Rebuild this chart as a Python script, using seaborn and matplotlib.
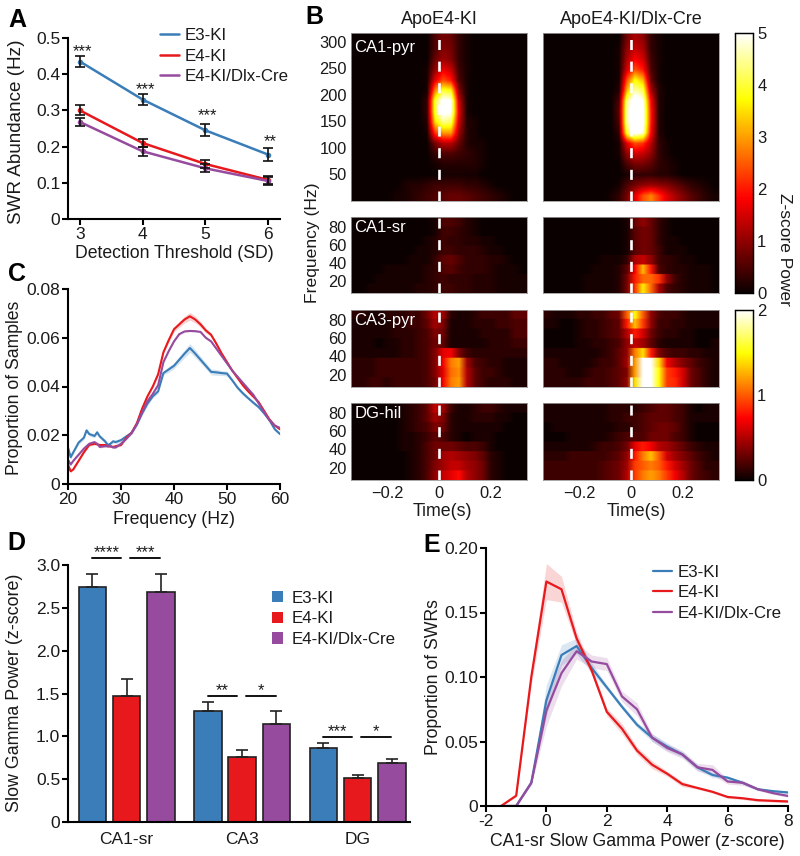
import numpy as np
import pandas as pd
import matplotlib
matplotlib.use('Agg')
import matplotlib.pyplot as plt
from matplotlib.patches import Patch
import seaborn as sns

sns.set_theme(style='ticks')
plt.rcParams['font.family'] = ['Liberation Sans', 'DejaVu Sans']

groups = ['E3-KI', 'E4-KI', 'E4-KI/Dlx-Cre']
colors = ['#3A7DB8', '#E8191C', '#964B9E']

# A
thresholds = [3, 4, 5, 6]
abund_e3 = [0.435, 0.330, 0.245, 0.178]
abund_e4 = [0.300, 0.210, 0.152, 0.108]
abund_dlx = [0.268, 0.187, 0.140, 0.105]
abund_err_e3 = [0.014, 0.015, 0.017, 0.018]
abund_err_e4 = [0.014, 0.012, 0.012, 0.010]
abund_err_dlx = [0.012, 0.012, 0.011, 0.010]

# C
freq = [20, 20.5, 21, 22, 23, 23.5, 24, 25, 25.5, 26, 27, 27.5, 28, 28.5, 29, 30, 31, 32, 33, 34, 35, 36, 37, 38, 39,
        40, 41, 42, 43, 44, 45, 46, 47, 48, 49, 50, 51, 52, 53, 54, 55, 56, 57, 58, 59, 60]
prop_e3 = [.015, .011, .013, .017, .019, .022, .0205, .0197, .0212, .0195, .0175, .016, .0165, .0175, .0172, .018,
           .0195, .021, .0245, .029, .033, .036, .038, .0455, .047, .0485, .051, .0535, .0558, .0535, .051, .0485,
           .046, .0458, .0455, .0453, .0425, .0395, .0372, .0352, .0333, .0315, .029, .0262, .0225, .0205]
prop_e4 = [.008, .0052, .006, .0095, .013, .0145, .016, .0165, .0163, .016, .016, .0155, .0155, .0152, .0155, .016,
           .019, .021, .025, .031, .036, .040, .045, .054, .059, .0635, .0655, .0675, .0688, .0675, .0655, .063,
           .0612, .0575, .0535, .050, .0465, .0435, .0405, .038, .0358, .0335, .030, .0265, .024, .0225]
prop_dlx = [.010, .008, .0095, .012, .0145, .0155, .0165, .0172, .0165, .0152, .0155, .0155, .0155, .015, .015, .0165,
            .0185, .021, .0245, .0295, .034, .037, .0405, .050, .0545, .0585, .0615, .0626, .0628, .0627, .0624, .060,
            .0585, .0555, .0525, .0495, .0465, .044, .0415, .039, .0365, .033, .0295, .0262, .024, .023]
prop_sem_e3 = [.0008] * 24 + [.0012, .0012, .0014, .0016, .0018, .0016, .0014, .0012, .0012, .0012, .0010, .0010,
                              .0008, .0008, .0008, .0006, .0006, .0006, .0006, .0006, .0006, .0006]
prop_sem_e4 = [.0005] * 24 + [.0010, .0010, .0012, .0014, .0016, .0014, .0012, .0010, .0008, .0008, .0006, .0006,
                              .0006, .0006, .0006, .0005, .0005, .0005, .0005, .0005, .0005, .0005]
prop_sem_dlx = [.0004] * 46

# D
regions = ['CA1-sr', 'CA3', 'DG']
gamma_e3 = [2.74, 1.30, 0.86]
gamma_e4 = [1.47, 0.76, 0.51]
gamma_dlx = [2.69, 1.14, 0.69]
gamma_err_e3 = [0.15, 0.10, 0.06]
gamma_err_e4 = [0.20, 0.08, 0.04]
gamma_err_dlx = [0.21, 0.15, 0.04]
sig_stars = [['****', '***'], ['**', '*'], ['***', '*']]
sig_heights = [3.08, 1.47, 0.99]

# E
zscore = [-1.5, -1, -.5, 0, .5, 1, 1.5, 2, 2.5, 3, 3.5, 4, 4.5, 5, 5.5, 6, 6.5, 7, 7.5, 8]
swr_e3 = [0, 0, .018, .082, .117, .124, .107, .092, .077, .063, .053, .046, .040, .030, .024, .022, .018, .013, .0115, .0105]
swr_e4 = [0, .008, .100, .174, .168, .130, .105, .073, .060, .043, .032, .025, .017, .014, .011, .007, .006, .0045, .004, .0035]
swr_dlx = [0, 0, .018, .074, .103, .120, .112, .110, .085, .075, .053, .045, .040, .030, .028, .019, .018, .013, .010, .0078]
swr_sem_e3 = [0, 0, .001, .012, .008, .006, .004, .002, .002, .002, .003, .003, .002, .002, .002, .001, .001, .001, .001, .001]
swr_sem_e4 = [0, .001, .006, .014, .010, .005, .003, .003, .004, .003, .003, .002, .002, .001, .001, .001, .001, .001, .001, .001]
swr_sem_dlx = [0, 0, .002, .012, .010, .006, .005, .005, .004, .005, .003, .003, .003, .003, .004, .002, .002, .001, .001, .001]

# B, top row = highest frequency. CA1 grids are in 1/10 z, CA3 and DG in 1/20 z
pyr_e4 = [
    [0, 0, 0, 0, 0, 0, 0, 0, 0, 0, 5, 8, 7, 3, 1, 0, 0, 0, 0, 0, 0, 0],
    [0, 0, 0, 0, 0, 0, 0, 0, 0, 0, 5, 9, 8, 3, 1, 0, 0, 0, 0, 0, 0, 0],
    [0, 0, 0, 0, 0, 0, 0, 0, 0, 0, 7, 11, 9, 3, 1, 0, 0, 0, 0, 0, 0, 0],
    [0, 0, 0, 0, 0, 0, 0, 0, 0, 1, 10, 17, 14, 4, 1, 0, 0, 0, 0, 0, 0, 0],
    [0, 0, 0, 0, 0, 0, 0, 0, 0, 1, 16, 24, 20, 5, 1, 0, 0, 0, 0, 0, 0, 0],
    [0, 0, 0, 0, 0, 0, 0, 0, 0, 1, 28, 40, 38, 9, 1, 0, 0, 0, 0, 0, 0, 0],
    [0, 0, 0, 0, 0, 0, 0, 0, 0, 3, 40, 52, 50, 14, 1, 0, 0, 0, 0, 0, 0, 0],
    [0, 0, 0, 0, 0, 0, 0, 0, 0, 3, 40, 52, 50, 16, 1, 0, 0, 0, 0, 0, 0, 0],
    [0, 0, 0, 0, 0, 0, 0, 0, 0, 2, 34, 44, 42, 14, 2, 1, 0, 0, 0, 0, 0, 0],
    [0, 0, 0, 0, 0, 0, 0, 0, 0, 1, 22, 30, 30, 11, 2, 1, 0, 0, 0, 0, 0, 0],
    [0, 0, 0, 0, 0, 0, 0, 0, 0, 0, 8, 13, 13, 7, 2, 1, 1, 0, 0, 0, 0, 0],
    [0, 0, 0, 0, 0, 0, 0, 0, 0, 0, 3, 5, 5, 4, 3, 2, 1, 0, 0, 0, 0, 0],
    [0, 0, 0, 0, 0, 0, 0, 0, 0, 0, 1, 2, 2, 2, 2, 2, 1, 0, 0, 0, 0, 0],
    [0, 0, 0, 0, 0, 0, 0, 0, 0, 0, 0, 1, 1, 1, 1, 1, 0, 0, 0, 0, 0, 0],
    [0, 0, 0, 0, 0, 0, 1, 2, 2, 3, 4, 4, 4, 4, 3, 3, 2, 1, 0, 0, 0, 0],
    [0, 0, 0, 0, 0, 1, 1, 2, 3, 4, 5, 6, 7, 7, 6, 5, 4, 3, 2, 1, 0, 0],
]
pyr_dlx = [
    [0, 0, 0, 0, 0, 0, 0, 0, 0, 0, 8, 12, 10, 3, 1, 0, 0, 0, 0, 0, 0, 0],
    [0, 0, 0, 0, 0, 0, 0, 0, 0, 1, 10, 14, 12, 3, 1, 0, 0, 0, 0, 0, 0, 0],
    [0, 0, 0, 0, 0, 0, 0, 0, 0, 1, 12, 18, 15, 4, 1, 0, 0, 0, 0, 0, 0, 0],
    [0, 0, 0, 0, 0, 0, 0, 0, 0, 1, 15, 24, 20, 5, 1, 0, 0, 0, 0, 0, 0, 0],
    [0, 0, 0, 0, 0, 0, 0, 0, 0, 1, 24, 38, 32, 7, 1, 0, 0, 0, 0, 0, 0, 0],
    [0, 0, 0, 0, 0, 0, 0, 0, 0, 2, 32, 46, 42, 12, 2, 0, 0, 0, 0, 0, 0, 0],
    [0, 0, 0, 0, 0, 0, 0, 0, 0, 5, 44, 55, 50, 18, 2, 0, 0, 0, 0, 0, 0, 0],
    [0, 0, 0, 0, 0, 0, 0, 0, 0, 6, 46, 55, 52, 20, 2, 0, 0, 0, 0, 0, 0, 0],
    [0, 0, 0, 0, 0, 0, 0, 0, 0, 5, 46, 55, 52, 20, 2, 0, 0, 0, 0, 0, 0, 0],
    [0, 0, 0, 0, 0, 0, 0, 0, 0, 3, 40, 52, 48, 18, 2, 0, 0, 0, 0, 0, 0, 0],
    [0, 0, 0, 0, 0, 0, 0, 0, 0, 1, 16, 24, 22, 13, 3, 1, 0, 0, 0, 0, 0, 0],
    [0, 0, 0, 0, 0, 0, 0, 0, 0, 1, 10, 15, 14, 10, 3, 1, 0, 0, 0, 0, 0, 0],
    [0, 0, 0, 0, 0, 0, 0, 0, 0, 0, 5, 8, 8, 6, 3, 2, 1, 0, 0, 0, 0, 0],
    [0, 0, 0, 0, 0, 0, 0, 0, 0, 0, 1, 3, 3, 3, 2, 2, 1, 0, 0, 0, 0, 0],
    [0, 0, 0, 0, 0, 0, 0, 0, 0, 1, 5, 8, 10, 11, 10, 9, 7, 5, 3, 2, 1, 0],
    [0, 0, 0, 0, 0, 0, 0, 0, 1, 3, 8, 16, 24, 28, 22, 16, 12, 9, 6, 4, 2, 1],
]
sr_e4 = [
    [0, 0, 0, 0, 0, 0, 0, 0, 0, 0, 1, 5, 5, 4, 2, 1, 0, 0, 0, 0, 0, 0],
    [0, 0, 0, 0, 0, 0, 0, 0, 0, 0, 1, 4, 4, 3, 2, 1, 0, 0, 0, 0, 0, 0],
    [0, 0, 0, 0, 0, 0, 0, 0, 0, 1, 2, 4, 3, 3, 2, 2, 1, 1, 0, 0, 0, 0],
    [0, 0, 0, 0, 0, 0, 0, 0, 1, 1, 2, 4, 4, 3, 3, 3, 2, 1, 1, 0, 0, 0],
    [0, 0, 0, 0, 0, 0, 0, 1, 1, 1, 3, 6, 7, 5, 3, 3, 3, 2, 2, 1, 0, 0],
    [0, 0, 0, 0, 1, 1, 1, 1, 1, 2, 3, 5, 6, 4, 3, 3, 3, 2, 1, 1, 1, 0],
    [0, 0, 0, 1, 1, 1, 1, 1, 1, 2, 3, 4, 3, 3, 3, 2, 2, 2, 1, 1, 1, 1],
    [0, 0, 1, 1, 1, 1, 1, 1, 2, 2, 3, 4, 4, 3, 3, 2, 2, 2, 1, 1, 1, 1],
]
sr_dlx = [
    [0, 0, 0, 0, 0, 0, 0, 0, 0, 0, 1, 7, 10, 7, 3, 1, 0, 0, 0, 0, 0, 0],
    [0, 0, 0, 0, 0, 0, 0, 0, 0, 0, 1, 6, 8, 7, 3, 1, 0, 0, 0, 0, 0, 0],
    [0, 0, 0, 0, 0, 0, 0, 0, 0, 0, 1, 6, 8, 7, 3, 1, 1, 0, 0, 0, 0, 0],
    [0, 0, 0, 0, 0, 0, 0, 0, 0, 0, 1, 6, 8, 7, 4, 1, 1, 1, 0, 0, 0, 0],
    [0, 0, 0, 0, 0, 0, 0, 1, 1, 1, 3, 12, 14, 10, 4, 3, 2, 1, 1, 0, 0, 0],
    [0, 0, 0, 0, 0, 0, 1, 1, 1, 2, 6, 18, 32, 20, 5, 3, 2, 2, 1, 1, 1, 0],
    [0, 0, 0, 0, 0, 1, 1, 1, 1, 2, 8, 20, 26, 26, 22, 10, 4, 2, 1, 1, 1, 0],
    [0, 0, 0, 0, 0, 1, 1, 1, 1, 2, 8, 22, 36, 26, 12, 5, 3, 2, 1, 1, 1, 0],
]
ca3_e4 = [
    [2, 2, 1, 1, 2, 2, 2, 3, 3, 6, 10, 9, 2, 1, 1, 2, 3, 3, 3, 3, 5, 5],
    [1, 1, 1, 1, 1, 2, 2, 3, 3, 5, 9, 7, 1, 1, 1, 2, 2, 2, 3, 3, 4, 4],
    [1, 1, 1, 1, 1, 2, 2, 2, 3, 4, 7, 6, 1, 1, 1, 1, 2, 2, 2, 2, 4, 4],
    [1, 1, 1, 0, 1, 1, 2, 2, 3, 4, 6, 5, 1, 1, 1, 1, 1, 2, 2, 2, 3, 3],
    [1, 1, 1, 1, 1, 1, 2, 2, 3, 4, 7, 13, 14, 7, 3, 2, 2, 2, 2, 2, 2, 2],
    [2, 2, 2, 3, 3, 3, 3, 3, 3, 4, 7, 14, 22, 24, 9, 4, 3, 2, 2, 1, 1, 1],
    [2, 2, 2, 3, 3, 3, 3, 3, 3, 4, 7, 13, 21, 23, 10, 5, 3, 3, 2, 1, 1, 1],
    [2, 2, 3, 3, 2, 3, 3, 3, 3, 4, 6, 14, 22, 24, 10, 5, 3, 2, 2, 2, 1, 1],
]
ca3_dlx = [
    [2, 1, 1, 1, 2, 2, 3, 3, 5, 6, 20, 30, 20, 8, 4, 3, 3, 2, 1, 1, 1, 1],
    [1, 1, 0, 0, 1, 2, 2, 3, 4, 5, 16, 26, 18, 8, 3, 3, 2, 2, 1, 1, 1, 1],
    [0, 0, 0, 0, 1, 2, 2, 3, 4, 5, 10, 16, 12, 6, 3, 2, 2, 1, 1, 0, 0, 0],
    [0, 0, 0, 0, 1, 1, 2, 2, 3, 4, 8, 11, 9, 5, 2, 1, 1, 1, 1, 0, 0, 1],
    [1, 1, 1, 1, 1, 1, 1, 2, 3, 5, 8, 22, 28, 16, 7, 4, 3, 3, 2, 2, 1, 1],
    [2, 2, 1, 1, 1, 1, 2, 3, 3, 5, 9, 24, 40, 40, 28, 14, 10, 7, 5, 3, 2, 1],
    [2, 2, 2, 1, 1, 2, 3, 3, 4, 5, 7, 24, 42, 42, 30, 18, 16, 12, 6, 4, 2, 1],
    [2, 2, 2, 2, 2, 3, 3, 3, 4, 5, 8, 28, 42, 42, 30, 18, 17, 12, 6, 4, 2, 1],
]
dg_e4 = [
    [0, 0, 0, 0, 0, 0, 1, 2, 3, 5, 11, 9, 3, 1, 1, 2, 3, 3, 2, 1, 1, 1],
    [0, 0, 0, 0, 0, 0, 1, 2, 3, 5, 9, 7, 2, 1, 1, 2, 2, 2, 1, 1, 0, 0],
    [0, 0, 0, 0, 0, 0, 1, 2, 3, 4, 7, 6, 2, 1, 1, 1, 1, 1, 1, 0, 0, 0],
    [0, 0, 0, 0, 0, 0, 1, 1, 2, 3, 5, 4, 2, 1, 0, 1, 1, 1, 0, 0, 0, 0],
    [0, 0, 0, 0, 0, 0, 1, 1, 2, 4, 6, 6, 6, 5, 4, 4, 3, 1, 0, 0, 0, 0],
    [0, 0, 0, 0, 0, 0, 0, 1, 2, 4, 6, 9, 10, 9, 8, 7, 5, 2, 1, 0, 0, 0],
    [0, 0, 0, 0, 0, 0, 0, 1, 2, 4, 7, 9, 11, 11, 9, 8, 6, 2, 1, 0, 0, 0],
    [0, 0, 0, 0, 0, 0, 0, 1, 2, 4, 8, 11, 13, 15, 10, 8, 6, 2, 1, 0, 0, 0],
]
dg_dlx = [
    [1, 1, 1, 1, 1, 1, 1, 1, 2, 2, 2, 2, 3, 4, 5, 5, 4, 3, 1, 0, 1, 1],
    [1, 1, 1, 1, 1, 1, 1, 1, 2, 2, 3, 3, 4, 5, 5, 5, 4, 3, 1, 1, 1, 1],
    [0, 1, 1, 1, 1, 1, 1, 1, 1, 2, 2, 3, 4, 5, 6, 6, 5, 3, 1, 0, 0, 0],
    [0, 0, 0, 1, 1, 1, 1, 1, 2, 3, 4, 4, 4, 6, 6, 6, 4, 3, 1, 0, 0, 0],
    [1, 1, 1, 1, 1, 1, 2, 3, 3, 4, 6, 13, 16, 14, 10, 9, 7, 5, 3, 2, 1, 1],
    [2, 2, 2, 3, 3, 3, 3, 3, 4, 5, 8, 16, 22, 26, 20, 12, 9, 7, 5, 3, 2, 1],
    [3, 3, 3, 3, 3, 3, 3, 4, 5, 6, 9, 18, 20, 22, 20, 16, 12, 9, 6, 4, 2, 2],
    [3, 3, 3, 3, 3, 3, 3, 4, 5, 6, 10, 18, 22, 24, 22, 18, 14, 10, 6, 4, 3, 2],
]
time_ticks = [-0.2, 0, 0.2]
time_labels = ['\u22120.2', '0', '0.2']
time_lim = 0.342

W, H = 800, 856
fig = plt.figure(figsize=(W / 100, H / 100), dpi=100)
fig.patch.set_facecolor('white')


def px_axes(left, top, right, bottom):
    return fig.add_axes([left / W, 1 - bottom / H, (right - left) / W, (bottom - top) / H])


def px_text(x, y, s, **kw):
    kw.setdefault('fontsize', 12.7)
    kw.setdefault('ha', 'center')
    kw.setdefault('va', 'center')
    kw.setdefault('color', '#1a1a1a')
    fig.text(x / W, 1 - y / H, s, **kw)


def style_axis(ax):
    sns.despine(ax=ax)
    for s in ['left', 'bottom']:
        ax.spines[s].set_linewidth(1.5)
        ax.spines[s].set_color('black')
    ax.tick_params(width=1.5, length=4, labelsize=12.5, color='black', labelcolor='#1a1a1a', pad=1.5)
    ax.set_xlabel('')
    ax.set_ylabel('')


def long_table(x, series):
    return pd.DataFrame({'x': list(x) * 3,
                         'y': series[0] + series[1] + series[2],
                         'group': [g for g in groups for _ in x]})


def legend_lines(ax, anchor):
    leg = ax.legend(loc='upper left', bbox_to_anchor=anchor, frameon=False, fontsize=12.2,
                    handlelength=1.1, handletextpad=0.35, labelspacing=0.33, borderpad=0, borderaxespad=0)
    for t in leg.get_texts():
        t.set_color('#1a1a1a')
    for h in leg.get_lines():
        h.set_marker('')


# panel A
ax = px_axes(68, 38, 280, 219)
sns.lineplot(data=long_table(thresholds, [abund_e3, abund_e4, abund_dlx]), x='x', y='y', hue='group',
             palette=colors, marker='o', markersize=4, markeredgewidth=0, linewidth=1.8, errorbar=None, ax=ax)
for vals, errs in zip([abund_e3, abund_e4, abund_dlx], [abund_err_e3, abund_err_e4, abund_err_dlx]):
    ax.errorbar(thresholds, vals, yerr=errs, fmt='none', ecolor='#111111', elinewidth=1.2, capsize=3.5, capthick=1.2)
ax.set_xlim(2.81, 6.19)
ax.set_ylim(0, 0.5)
ax.set_xticks(thresholds)
ax.set_yticks([0, 0.1, 0.2, 0.3, 0.4, 0.5])
ax.set_yticklabels(['0', '0.1', '0.2', '0.3', '0.4', '0.5'])
style_axis(ax)
legend_lines(ax, (0.434, 1.055))
for x_t, y_t, s in zip(thresholds, [0.461, 0.357, 0.285, 0.215], ['***', '***', '***', '**']):
    ax.text(x_t + 0.04, y_t, s, ha='center', va='center', fontsize=12, color='#1a1a1a')
px_text(174, 253, 'Detection Threshold (SD)')
px_text(17, 132, 'SWR Abundance (Hz)', rotation=90, fontsize=13.6)

# panel C
ax = px_axes(68, 289, 280, 484)
sns.lineplot(data=long_table(freq, [prop_e3, prop_e4, prop_dlx]), x='x', y='y', hue='group',
             palette=colors, linewidth=1.5, errorbar=None, legend=False, ax=ax)
for vals, sems, c in zip([prop_e3, prop_e4, prop_dlx], [prop_sem_e3, prop_sem_e4, prop_sem_dlx], colors):
    ax.fill_between(freq, np.array(vals) - sems, np.array(vals) + sems, color=c, alpha=0.2, lw=0)
ax.set_xlim(20, 60)
ax.set_ylim(0, 0.08)
ax.set_xticks([20, 30, 40, 50, 60])
ax.set_yticks([0, 0.02, 0.04, 0.06, 0.08])
ax.set_yticklabels(['0', '0.02', '0.04', '0.06', '0.08'])
style_axis(ax)
px_text(174, 519, 'Frequency (Hz)')
px_text(15, 388, 'Proportion of Samples', rotation=90)

# panel D
ax = px_axes(68, 565, 410, 822)
bars = pd.DataFrame({'region': regions * 3,
                     'power': gamma_e3 + gamma_e4 + gamma_dlx,
                     'group': [g for g in groups for _ in regions]})
sns.barplot(data=bars, x='region', y='power', hue='group', palette=colors, saturation=1, width=0.89, gap=0.2,
            edgecolor='#222222', linewidth=1.2, legend=False, ax=ax)
for cont, vals, errs in zip(ax.containers, [gamma_e3, gamma_e4, gamma_dlx], [gamma_err_e3, gamma_err_e4, gamma_err_dlx]):
    xs = [p.get_x() + p.get_width() / 2 for p in cont]
    ax.errorbar(xs, vals, yerr=[[0] * 3, errs], fmt='none', ecolor='#222222', elinewidth=1.2, capsize=4.5, capthick=1.2)
ax.set_xlim(-0.508, 2.453)
ax.set_ylim(0, 3)
ax.set_yticks([0, 0.5, 1, 1.5, 2, 2.5, 3])
ax.set_yticklabels(['0', '0.5', '1.0', '1.5', '2.0', '2.5', '3.0'])
style_axis(ax)
ax.tick_params(axis='x', length=0, pad=7)
for g, (stars, h) in enumerate(zip(sig_stars, sig_heights)):
    for (x0, x1), s in zip([(g - 0.297, g - 0.047), (g + 0.03, g + 0.29)], stars):
        ax.plot([x0, x1], [h, h], color='#111111', lw=1.4, clip_on=False)
        ax.text((x0 + x1) / 2, h + 0.06, s, ha='center', va='center', fontsize=12, color='#1a1a1a', clip_on=False)
handles = [Patch(facecolor=c, edgecolor='none') for c in colors]
leg = ax.legend(handles, groups, loc='upper left', bbox_to_anchor=(0.596, 0.9), frameon=False, fontsize=12.2,
                handlelength=0.65, handleheight=0.65, handletextpad=0.5, labelspacing=0.33, borderpad=0, borderaxespad=0)
for t in leg.get_texts():
    t.set_color('#1a1a1a')
px_text(15, 693, 'Slow Gamma Power (z-score)', rotation=90, fontsize=12.9)

# panel E
ax = px_axes(486, 548, 788, 806)
sns.lineplot(data=long_table(zscore, [swr_e3, swr_e4, swr_dlx]), x='x', y='y', hue='group',
             palette=colors, linewidth=1.6, errorbar=None, ax=ax)
for vals, sems, c in zip([swr_e3, swr_e4, swr_dlx], [swr_sem_e3, swr_sem_e4, swr_sem_dlx], colors):
    ax.fill_between(zscore, np.array(vals) - sems, np.array(vals) + sems, color=c, alpha=0.18, lw=0)
ax.set_xlim(-2, 8)
ax.set_ylim(0, 0.2)
ax.set_xticks([-2, 0, 2, 4, 6, 8])
ax.set_xticklabels(['-2', '0', '2', '4', '6', '8'])
ax.set_yticks([0, 0.05, 0.1, 0.15, 0.2])
ax.set_yticklabels(['0', '0.05', '0.10', '0.15', '0.20'])
style_axis(ax)
legend_lines(ax, (0.553, 0.935))
px_text(637, 841, 'CA1-sr Slow Gamma Power (z-score)')
px_text(433, 677, 'Proportion of SWRs', rotation=90)

# panel B
cax_top = px_axes(735, 33, 753, 293)
cax_bot = px_axes(735, 310, 753, 480)
heat_rows = [
    (33, 201, pyr_e4, pyr_dlx, 10, 5, 316, 0, [300, 250, 200, 150, 100, 50], 'CA1-pyr', cax_top, [0, 1, 2, 3, 4, 5]),
    (217, 293, sr_e4, sr_dlx, 10, 5, 91, 6.5, [80, 60, 40, 20], 'CA1-sr', None, None),
    (310, 387, ca3_e4, ca3_dlx, 20, 2, 91, 6.5, [80, 60, 40, 20], 'CA3-pyr', cax_bot, [0, 1, 2]),
    (403, 480, dg_e4, dg_dlx, 20, 2, 91, 6.5, [80, 60, 40, 20], 'DG-hil', None, None),
]
for top, bottom, left_grid, right_grid, unit, vmax, fmax, fmin, fticks, name, cax, cticks in heat_rows:
    for col, (x0, x1, grid) in enumerate([(351, 527, left_grid), (543, 719, right_grid)]):
        ax = px_axes(x0, top, x1, bottom)
        draw_cbar = cax is not None and col == 1
        power = np.array(grid) / unit
        n_rows, n_cols = power.shape
        sns.heatmap(power, vmin=0, vmax=vmax, cmap='hot', xticklabels=False, yticklabels=False,
                    cbar=draw_cbar, cbar_ax=cax if draw_cbar else None, ax=ax)
        # same cells, smoothed along time; the narrow panels keep their frequency bands sharp
        ax.collections[0].set_visible(False)
        band_repeat = 1 if name == 'CA1-pyr' else 8
        ax.imshow(np.repeat(power, band_repeat, axis=0), extent=(0, n_cols, n_rows, 0), aspect='auto', cmap='hot',
                  vmin=0, vmax=vmax, interpolation='bilinear')
        ax.set_xlim(0, n_cols)
        ax.set_ylim(n_rows, 0)
        ax.axvline(n_cols / 2, color='white', lw=1.9, dashes=(3.8, 4.4))
        for s in ax.spines.values():
            s.set_visible(True)
            s.set_color('#999999')
            s.set_linewidth(0.6)
        ax.tick_params(length=0, labelsize=11.8, labelcolor='#1a1a1a', pad=3)
        if col == 0:
            ax.set_yticks([(fmax - f) / (fmax - fmin) * n_rows for f in fticks])
            ax.set_yticklabels([str(f) for f in fticks], rotation=0)
            ax.text(0.018, 0.96, name, transform=ax.transAxes, color='white',
                    fontsize=12, ha='left', va='top')
        if name == 'DG-hil':
            ax.set_xticks([(t + time_lim) / (2 * time_lim) * n_cols for t in time_ticks])
            ax.set_xticklabels(time_labels, rotation=0)
            ax.tick_params(axis='x', pad=4)
        if draw_cbar:
            cax.set_yticks(cticks)
            cax.set_yticklabels([str(c) for c in cticks])
            cax.tick_params(length=0, labelsize=12, labelcolor='#1a1a1a', pad=3)
            for s in cax.spines.values():
                s.set_visible(True)
                s.set_color('black')
                s.set_linewidth(0.9)

px_text(439, 19, 'ApoE4-KI', fontsize=13)
px_text(631, 19, 'ApoE4-KI/Dlx-Cre', fontsize=13)
px_text(312, 243, 'Frequency (Hz)', rotation=90, fontsize=12.6)
px_text(784, 249, 'Z-score Power', rotation=-90, fontsize=12.5)
px_text(442, 511, 'Time(s)', fontsize=12.8)
px_text(636, 511, 'Time(s)', fontsize=12.8)

for x_l, y_l, s in [(17, 20, 'A'), (314, 17, 'B'), (17, 274, 'C'), (16, 543, 'D'), (432, 545, 'E')]:
    px_text(x_l, y_l, s, fontsize=18, fontweight='bold', color='black')

fig.savefig('out.png', dpi=100)
